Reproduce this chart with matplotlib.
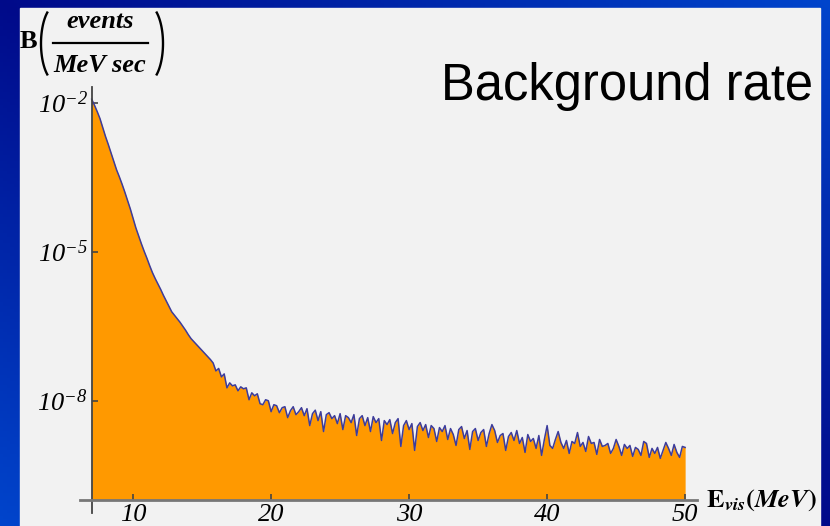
import numpy as np
import matplotlib
matplotlib.use("Agg")
import matplotlib.pyplot as plt
from matplotlib.patches import Rectangle
from matplotlib.ticker import NullLocator

# italic serif digits for the y tick labels (10^-n)
plt.rcParams["mathtext.fontset"] = "custom"
plt.rcParams["mathtext.rm"] = "Liberation Serif:italic"
plt.rcParams["mathtext.it"] = "Liberation Serif:italic"
plt.rcParams["mathtext.bf"] = "Liberation Serif:bold"

# bin centres in MeV, 0.2 MeV steps from 7 to 50
energy = np.round(np.arange(7.0, 50.01, 0.2), 1)

# log10 of the background rate
log_rate = [
    -1.93, -2.05, -2.18, -2.32, -2.50, -2.68, -2.84, -3.01, -3.18, -3.35,
    -3.49, -3.64, -3.80, -3.97, -4.14, -4.33, -4.52, -4.68, -4.84, -4.99,
    -5.13, -5.28, -5.42, -5.54, -5.65, -5.76, -5.88, -5.99, -6.10, -6.21,
    -6.28, -6.35, -6.42, -6.50, -6.58, -6.67, -6.75, -6.81, -6.87, -6.93,
    -6.99, -7.05, -7.11, -7.17, -7.24, -7.40, -7.35, -7.52, -7.46, -7.74,
    -7.64, -7.70, -7.68, -7.80, -7.72, -7.76, -7.74, -7.98, -7.84, -7.90,
    -7.86, -8.06, -8.08, -7.98, -8.00, -8.22, -8.08, -8.10, -8.24, -8.14,
    -8.12, -8.34, -8.20, -8.12, -8.28, -8.22, -8.14, -8.30, -8.16, -8.50,
    -8.26, -8.19, -8.40, -8.22, -8.62, -8.28, -8.24, -8.36, -8.30, -8.46,
    -8.26, -8.58, -8.30, -8.34, -8.44, -8.28, -8.70, -8.36, -8.30, -8.50,
    -8.34, -8.62, -8.32, -8.44, -8.36, -8.80, -8.40, -8.48, -8.38, -8.66,
    -8.44, -8.36, -8.92, -8.50, -8.40, -8.58, -8.46, -9.00, -8.52, -8.44,
    -8.60, -8.48, -8.74, -8.50, -8.56, -8.82, -8.54, -8.62, -8.50, -8.78,
    -8.56, -8.68, -8.90, -8.58, -8.52, -8.76, -8.60, -8.98, -8.62, -8.56,
    -8.80, -8.64, -8.58, -8.92, -8.66, -8.48, -8.60, -8.84, -8.70, -8.66,
    -9.00, -8.72, -8.64, -8.80, -8.60, -8.86, -8.74, -9.04, -8.68, -8.82,
    -8.76, -8.96, -8.70, -9.10, -8.78, -8.50, -8.90, -8.96, -8.78, -8.62,
    -8.84, -8.96, -8.80, -9.06, -8.82, -8.86, -8.64, -8.92, -8.84, -9.02,
    -8.72, -8.86, -8.84, -9.08, -8.78, -8.92, -8.90, -8.86, -9.06, -8.96,
    -8.78, -8.92, -9.10, -8.88, -8.96, -8.90, -9.12, -8.94, -8.98, -9.10,
    -8.82, -8.86, -9.14, -8.96, -9.06, -8.94, -9.16, -9.00, -8.84, -8.96,
    -9.10, -8.88, -9.04, -9.14, -8.92, -8.94,
]

xticks = [10, 20, 30, 40, 50]
xtick_labels = [str(t) for t in xticks]
yticks = [1e-2, 1e-5, 1e-8]
ytick_labels = [r"$10^{-2}$", r"$10^{-5}$", r"$10^{-8}$"]

rate = 10.0 ** np.array(log_rate)

W, H = 830, 526
fig = plt.figure(figsize=(W / 100, H / 100), dpi=100)

# slide background: blue gradient + light grey panel
bg = fig.add_axes([0, 0, 1, 1], zorder=-10)
gx, gy = np.meshgrid(np.linspace(0, 1, 240), np.linspace(0, 1, 160))
u = np.abs(gx - gy)[..., None]
dark = np.array([0.0, 0.04, 0.54])
bright = np.array([0.0, 0.27, 0.80])
bg.imshow(dark + u * (bright - dark), aspect="auto", extent=[0, 1, 0, 1], origin="upper")
bg.add_patch(Rectangle((20 / W, 0), 800 / W, 518 / H, color="#f2f2f2"))
bg.set_xlim(0, 1)
bg.set_ylim(0, 1)
bg.axis("off")


def px(x, y):
    # pixel position (from top-left) -> background axes coords
    return x / W, 1 - y / H


ax = fig.add_axes([80 / W, 13 / H, 617 / W, 426 / H])
ax.patch.set_visible(False)
ax.set_yscale("log")
ax.set_xlim(6.152, 50.86)
ax.set_ylim(10 ** -10.26, 10 ** -1.684)

ax.fill_between(energy, 1e-10, rate, color="#ff9900", lw=0, zorder=1)
ax.plot(energy, rate, color="#3c3c9c", lw=1.1, zorder=2)

ax.spines["left"].set_position(("data", 7))
ax.spines["bottom"].set_position(("data", 1e-10))
ax.spines[["top", "right"]].set_visible(False)
ax.spines["left"].set_color("#444444")
ax.spines["left"].set_linewidth(1.3)
ax.spines["bottom"].set_color("#777777")
ax.spines["bottom"].set_linewidth(2)

ax.set_xticks(xticks)
ax.set_xticklabels(xtick_labels, fontstyle="italic", family="Liberation Serif")
ax.set_yticks(yticks)
ax.set_yticklabels(ytick_labels)
ax.yaxis.set_minor_locator(NullLocator())
ax.tick_params(direction="in", length=4, width=1.2, colors="#444444",
               labelcolor="black", labelsize=19)
ax.tick_params(axis="x", pad=3)
ax.tick_params(axis="y", pad=3)

fig.text(813 / W, (H - 100) / H, "Background rate", ha="right", va="baseline",
         fontsize=36.5, family="Liberation Sans")

# y axis label: B( events / MeV sec )
serif = dict(family="Liberation Serif", fontsize=19, weight="bold")
bg.text(*px(20, 42), "B", ha="left", va="center", **serif)
bg.text(*px(100, 28), "events", ha="center", va="baseline", style="italic", **serif)
bg.text(*px(100, 72), "MeV sec", ha="center", va="baseline", style="italic", **serif)
bg.plot([53 / W, 148 / W], [1 - 43 / H] * 2, color="black", lw=1.6)
t = np.radians(np.linspace(125, 235, 40))
for cx, sgn in [(57, 1), (147, -1)]:
    bx = cx + sgn * 16 * np.cos(t)
    by = 43.5 + 39 * np.sin(t)
    bg.plot(bx / W, 1 - by / H, color="black", lw=1.7, solid_capstyle="butt")

fig.text(706 / W, 1 - 500 / H,
         r"$\mathbf{E}_{\mathbfit{vis}}\mathbf{(}\mathbfit{MeV}\mathbf{)}$",
         fontsize=19, ha="left", va="center", math_fontfamily="stix")

fig.savefig("out.png", dpi=100)
